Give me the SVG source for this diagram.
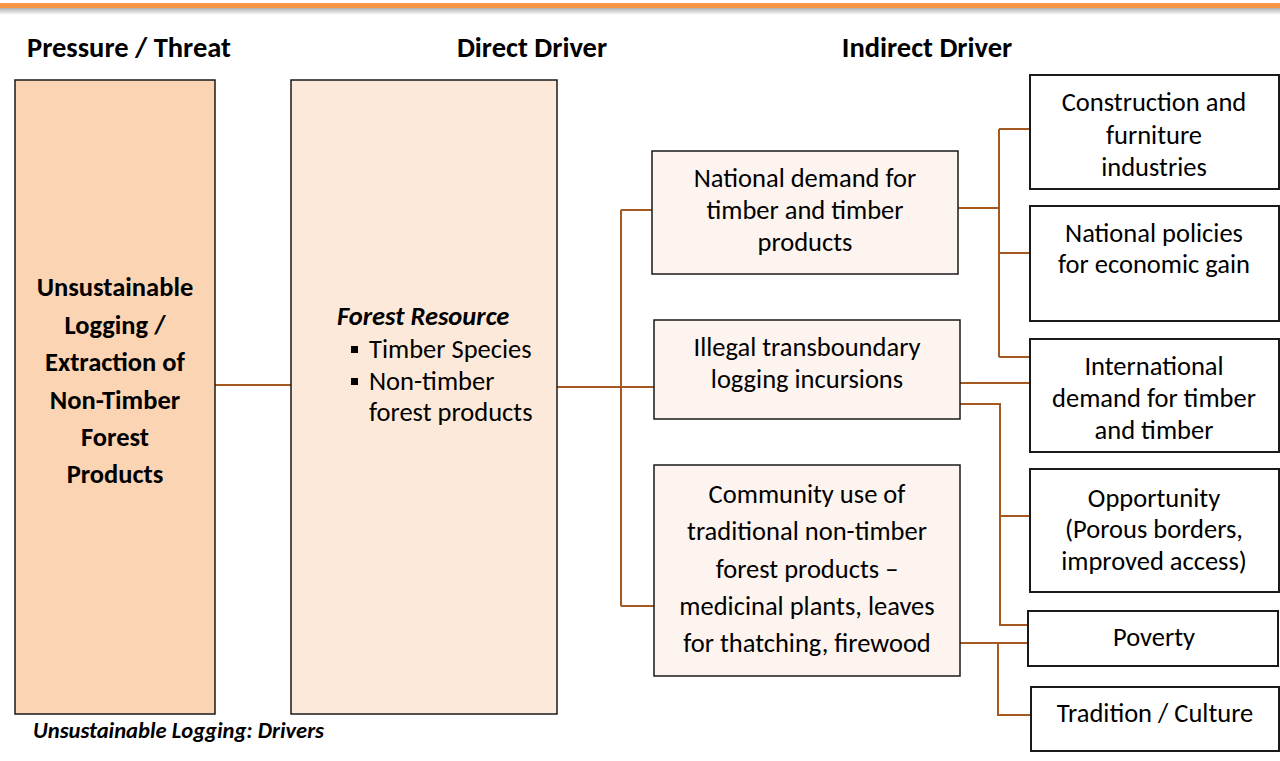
<svg xmlns="http://www.w3.org/2000/svg" width="1280" height="761" viewBox="0 0 1280 761">
<defs>
<linearGradient id="shadow" x1="0" y1="0" x2="0" y2="1">
<stop offset="0" stop-color="#b0b0b0"/>
<stop offset="1" stop-color="#ffffff"/>
</linearGradient>
</defs>
<style>
text{font-family:Carlito,Lato,"Liberation Sans",sans-serif;font-size:26.5px;fill:#000;text-anchor:middle}
.h{font-weight:bold;font-size:28.5px}
.b{font-weight:bold}
.bi{font-weight:bold;font-style:italic}
.cap{font-size:22.6px}
.l{text-anchor:start}
.box{stroke:#1a1a1a;stroke-width:1.5}
.pressure{fill:#FBD4B4}
.direct{fill:#FDE9D9}
.ind{fill:#FDF4EF}
.ext{fill:#ffffff;stroke-width:2}
.c{fill:none;stroke:#A5581F;stroke-width:2}
</style>
<rect width="1280" height="761" fill="#fff"/>
<rect x="0" y="8" width="1280" height="7" fill="url(#shadow)"/>
<rect x="0" y="3" width="1280" height="5" fill="#F79646"/>

<g id="headers">
<text class="h" x="129" y="57">Pressure / Threat</text>
<text class="h" x="532" y="57">Direct Driver</text>
<text class="h" x="927" y="57">Indirect Driver</text>
</g>

<g id="connectors">
<path class="c" d="M215 385H291"/>
<path class="c" d="M557 387H654M621 210V606M621 210H652M621 606H654"/>
<path class="c" d="M958 208H999M999 129V357M999 129H1030M999 253H1030M999 357H1030"/>
<path class="c" d="M960 383H1030"/>
<path class="c" d="M960 404H1000V625H1028M1000 516H1030"/>
<path class="c" d="M960 643H1028M998 643V715H1031"/>
</g>

<g id="node-pressure">
<rect class="box pressure" x="15" y="80" width="200" height="634"/>
<text class="b" x="115" y="296">Unsustainable</text>
<text class="b" x="115" y="334">Logging /</text>
<text class="b" x="115" y="371">Extraction of</text>
<text class="b" x="115" y="409">Non-Timber</text>
<text class="b" x="115" y="446">Forest</text>
<text class="b" x="115" y="483">Products</text>
</g>

<g id="node-direct">
<rect class="box direct" x="291" y="80" width="266" height="634"/>
<text class="bi l" x="337" y="325">Forest Resource</text>
<rect x="351" y="346" width="7" height="7" fill="#000"/>
<text class="l" x="369" y="358">Timber Species</text>
<rect x="351" y="378" width="7" height="7" fill="#000"/>
<text class="l" x="369" y="390">Non-timber</text>
<text class="l" x="369" y="421">forest products</text>
</g>

<g id="node-national-demand">
<rect class="box ind" x="652" y="151" width="306" height="123"/>
<text x="805" y="187">National demand for</text>
<text x="805" y="219">timber and timber</text>
<text x="805" y="251">products</text>
</g>

<g id="node-illegal">
<rect class="box ind" x="654" y="320" width="306" height="99"/>
<text x="807" y="356">Illegal transboundary</text>
<text x="807" y="388">logging incursions</text>
</g>

<g id="node-community">
<rect class="box ind" x="654" y="465" width="306" height="211"/>
<text x="807" y="503">Community use of</text>
<text x="807" y="540">traditional non-timber</text>
<text x="807" y="578">forest products –</text>
<text x="807" y="615">medicinal plants, leaves</text>
<text x="807" y="652">for thatching, firewood</text>
</g>

<g id="node-construction">
<rect class="box ext" x="1030" y="75" width="249" height="114"/>
<text x="1154" y="111">Construction and</text>
<text x="1154" y="144">furniture</text>
<text x="1154" y="176">industries</text>
</g>

<g id="node-policies">
<rect class="box ext" x="1030" y="206" width="249" height="115"/>
<text x="1154" y="242">National policies</text>
<text x="1154" y="273">for economic gain</text>
</g>

<g id="node-international">
<rect class="box ext" x="1030" y="339" width="249" height="113"/>
<text x="1154" y="375">International</text>
<text x="1154" y="407">demand for timber</text>
<text x="1154" y="439">and timber</text>
</g>

<g id="node-opportunity">
<rect class="box ext" x="1030" y="469" width="249" height="123"/>
<text x="1154" y="507">Opportunity</text>
<text x="1154" y="538">(Porous borders,</text>
<text x="1154" y="570">improved access)</text>
</g>

<g id="node-poverty">
<rect class="box ext" x="1028" y="611" width="250" height="55"/>
<text x="1154" y="646">Poverty</text>
</g>

<g id="node-tradition">
<rect class="box ext" x="1031" y="687" width="248" height="64"/>
<text x="1155" y="722">Tradition / Culture</text>
</g>

<text class="bi l cap" x="33" y="738">Unsustainable Logging: Drivers</text>
</svg>
